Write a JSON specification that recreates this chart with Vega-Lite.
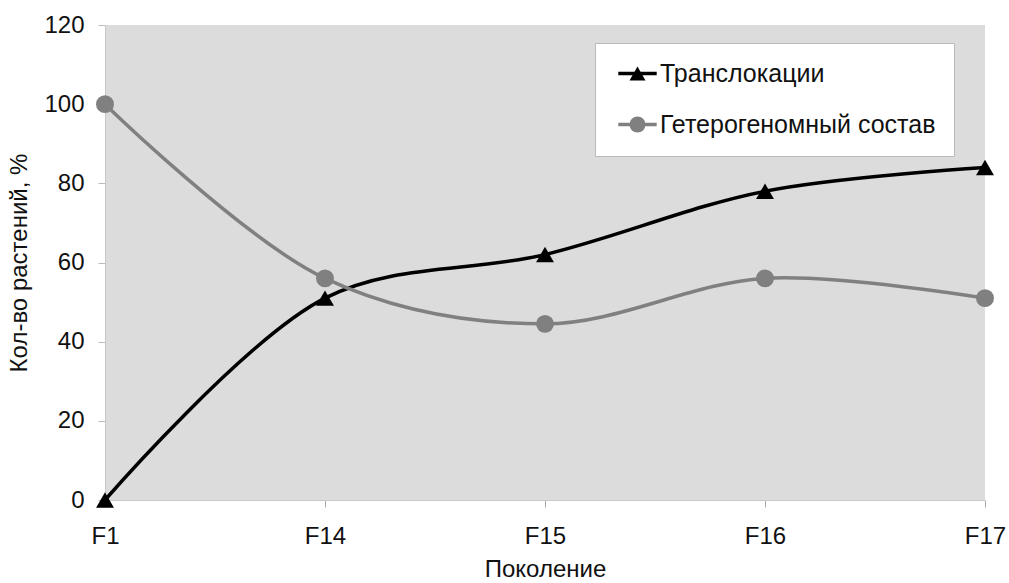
{
  "$schema": "https://vega.github.io/schema/vega-lite/v6.json",
  "width": 880,
  "height": 475,
  "autosize": {"type": "none"},
  "padding": {"left": 105, "top": 25, "right": 24, "bottom": 83},
  "background": "white",
  "config": {
    "font": "Liberation Sans",
    "view": {"fill": "#dcdcdc", "stroke": null}
  },
  "data": {
    "values": [
      {"gen": "F1", "series": "Транслокации", "value": 0},
      {"gen": "F14", "series": "Транслокации", "value": 51},
      {"gen": "F15", "series": "Транслокации", "value": 62},
      {"gen": "F16", "series": "Транслокации", "value": 78},
      {"gen": "F17", "series": "Транслокации", "value": 84},
      {"gen": "F1", "series": "Гетерогеномный состав", "value": 100},
      {"gen": "F14", "series": "Гетерогеномный состав", "value": 56},
      {"gen": "F15", "series": "Гетерогеномный состав", "value": 44.5},
      {"gen": "F16", "series": "Гетерогеномный состав", "value": 56},
      {"gen": "F17", "series": "Гетерогеномный состав", "value": 51}
    ]
  },
  "encoding": {
    "x": {
      "field": "gen", "type": "ordinal", "sort": ["F1", "F14", "F15", "F16", "F17"],
      "scale": {"type": "point", "padding": 0},
      "axis": {
        "title": "Поколение", "titleFontSize": 24, "titleFontWeight": "normal", "titleColor": "#111",
        "titlePadding": 9,
        "labelAngle": 0, "labelFontSize": 24, "labelColor": "#111", "labelPadding": 17,
        "domainColor": "#c8c8c8", "tickColor": "#aaaaaa", "tickSize": 7, "grid": false
      }
    },
    "y": {
      "field": "value", "type": "quantitative",
      "scale": {"domain": [0, 120], "nice": false},
      "axis": {
        "values": [0, 20, 40, 60, 80, 100, 120],
        "title": "Кол-во растений, %", "titleFontSize": 24, "titleFontWeight": "normal", "titleColor": "#111",
        "titlePadding": 12,
        "labelFontSize": 24, "labelColor": "#111", "labelPadding": 14,
        "domainColor": "#c8c8c8", "tickColor": "#bbbbbb", "tickSize": 7, "grid": false
      }
    }
  },
  "layer": [
    {
      "mark": {"type": "line", "interpolate": "catmull-rom", "strokeWidth": 3.5},
      "encoding": {
        "color": {
          "field": "series", "type": "nominal",
          "scale": {"domain": ["Транслокации", "Гетерогеномный состав"], "range": ["#000000", "#808080"]},
          "legend": {
            "title": null, "orient": "none", "legendX": 490, "legendY": 18,
            "fillColor": "white", "strokeColor": "#bbbbbb",
            "padding": 18, "symbolType": "M-2.4,0H2.4", "symbolSize": 256, "symbolStrokeWidth": 3.5,
            "symbolOffset": 12, "labelOffset": 10,
            "labelFontSize": 25, "labelOpacity": 0, "rowPadding": 25, "labelLimit": 500
          }
        }
      }
    },
    {
      "mark": {"type": "point", "filled": true, "size": 320, "opacity": 1},
      "encoding": {
        "color": {
          "field": "series", "type": "nominal",
          "scale": {"domain": ["Транслокации", "Гетерогеномный состав"], "range": ["#000000", "#808080"]},
          "legend": {
            "title": null, "orient": "none", "legendX": 490, "legendY": 18,
            "padding": 18,
            "symbolSize": 256, "symbolOffset": 12, "labelOffset": 10,
            "labelFontSize": 25, "labelColor": "#111", "rowPadding": 25, "labelLimit": 500
          }
        },
        "shape": {
          "field": "series", "type": "nominal",
          "scale": {"domain": ["Транслокации", "Гетерогеномный состав"], "range": ["triangle-up", "circle"]}
        }
      }
    }
  ],
  "resolve": {"scale": {"color": "independent", "shape": "independent"}, "legend": {"color": "independent"}}
}
